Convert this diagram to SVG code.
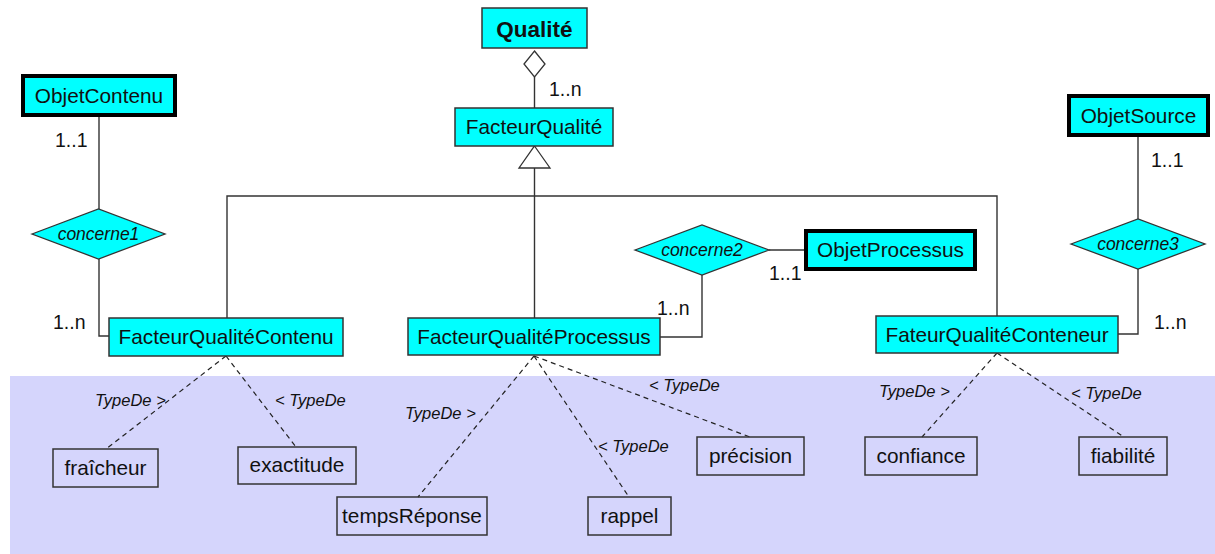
<svg xmlns="http://www.w3.org/2000/svg" width="1215" height="554" viewBox="0 0 1215 554">
<style>
text{font-family:"Liberation Sans",Arial,sans-serif;fill:#111}
.lbl{font-size:20.8px;text-anchor:middle}
.b{font-weight:bold;font-size:22.5px}
.rel{font-size:17.5px;font-style:italic;text-anchor:middle}
.m{font-size:19.5px}
.t{font-size:16.5px;font-style:italic}
.cls{fill:#00ffff;stroke:#333;stroke-width:1.5}
.ent{fill:#00ffff;stroke:#000;stroke-width:4}
.val{fill:none;stroke:#333;stroke-width:1.5}
.dia{fill:#00ffff;stroke:#333;stroke-width:1.3}
.ln{fill:none;stroke:#333;stroke-width:1.4}
.dash{fill:none;stroke:#222;stroke-width:1.2;stroke-dasharray:5,4}
</style>
<rect x="10" y="376" width="1205" height="178" fill="#d5d5fc"/>
<g id="connectors">
<line class="ln" x1="534.5" y1="77" x2="534.5" y2="108"/>
<polygon points="534.5,51 545,64 534.5,77 524,64" fill="#fff" stroke="#333" stroke-width="1.3"/>
<line class="ln" x1="534.5" y1="168" x2="534.5" y2="318"/>
<polyline class="ln" points="227,318 227,196 997,196 997,316"/>
<polygon points="534.5,146 550,168 519,168" fill="#fff" stroke="#333" stroke-width="1.3"/>
<line class="ln" x1="99" y1="117" x2="99" y2="209"/>
<polyline class="ln" points="99,259 99,336 109,336"/>
<line class="ln" x1="1138" y1="137" x2="1138" y2="219"/>
<polyline class="ln" points="1138,269 1138,334 1118,334"/>
<line class="ln" x1="769" y1="250" x2="804" y2="250"/>
<polyline class="ln" points="702,275 702,337 660,337"/>
<line class="dash" x1="226" y1="356" x2="106" y2="449"/>
<line class="dash" x1="226" y1="356" x2="296" y2="447"/>
<line class="dash" x1="534" y1="356" x2="418" y2="497"/>
<line class="dash" x1="534" y1="356" x2="629" y2="497"/>
<line class="dash" x1="534" y1="356" x2="750" y2="437"/>
<line class="dash" x1="997" y1="353" x2="922" y2="437"/>
<line class="dash" x1="997" y1="353" x2="1124" y2="437"/>
<text class="m" x="55" y="147">1..1</text>
<text class="m" x="53" y="329">1..n</text>
<text class="m" x="549" y="96">1..n</text>
<text class="m" x="769" y="280">1..1</text>
<text class="m" x="657" y="315">1..n</text>
<text class="m" x="1151" y="167">1..1</text>
<text class="m" x="1154" y="329">1..n</text>
<text class="t" x="95" y="406">TypeDe &gt;</text>
<text class="t" x="275" y="406">&lt; TypeDe</text>
<text class="t" x="405" y="419">TypeDe &gt;</text>
<text class="t" x="598" y="452">&lt; TypeDe</text>
<text class="t" x="649" y="391">&lt; TypeDe</text>
<text class="t" x="879" y="397">TypeDe &gt;</text>
<text class="t" x="1071" y="399">&lt; TypeDe</text>
</g>
<g id="Qualite"><rect class="cls" x="482" y="8" width="105" height="40"/><text class="lbl b" x="534.5" y="37">Qualité</text></g>
<g id="FacteurQualite"><rect class="cls" x="455" y="108" width="158" height="38"/><text class="lbl" x="534" y="134">FacteurQualité</text></g>
<g id="ObjetContenu"><rect class="ent" x="23" y="76" width="152" height="39"/><text class="lbl" x="99" y="103">ObjetContenu</text></g>
<g id="ObjetSource"><rect class="ent" x="1069" y="96" width="139" height="39"/><text class="lbl" x="1138.5" y="123">ObjetSource</text></g>
<g id="ObjetProcessus"><rect class="ent" x="806" y="231" width="169" height="38"/><text class="lbl" x="890.5" y="257">ObjetProcessus</text></g>
<g id="concerne1"><polygon class="dia" points="32,234 98.5,209 165,234 98.5,259"/><text class="rel" x="98.5" y="240">concerne1</text></g>
<g id="concerne2"><polygon class="dia" points="635,250 702,225 769,250 702,275"/><text class="rel" x="702" y="256">concerne2</text></g>
<g id="concerne3"><polygon class="dia" points="1071,244 1138,219 1205,244 1138,269"/><text class="rel" x="1138" y="250">concerne3</text></g>
<g id="FacteurQualiteContenu"><rect class="cls" x="109" y="318" width="234" height="38"/><text class="lbl" x="226" y="344">FacteurQualitéContenu</text></g>
<g id="FacteurQualiteProcessus"><rect class="cls" x="408" y="318" width="252" height="37"/><text class="lbl" x="534" y="344">FacteurQualitéProcessus</text></g>
<g id="FateurQualiteConteneur"><rect class="cls" x="876" y="316" width="242" height="37"/><text class="lbl" x="997" y="342">FateurQualitéConteneur</text></g>
<g id="fraicheur"><rect class="val" x="53" y="449" width="105" height="38"/><text class="lbl" x="105.5" y="475">fraîcheur</text></g>
<g id="exactitude"><rect class="val" x="238" y="447" width="118" height="37"/><text class="lbl" x="297" y="472">exactitude</text></g>
<g id="tempsReponse"><rect class="val" x="337" y="497" width="150" height="38"/><text class="lbl" x="412" y="523">tempsRéponse</text></g>
<g id="rappel"><rect class="val" x="588" y="497" width="83" height="38"/><text class="lbl" x="629.5" y="523">rappel</text></g>
<g id="precision"><rect class="val" x="697" y="437" width="107" height="38"/><text class="lbl" x="750.5" y="463">précision</text></g>
<g id="confiance"><rect class="val" x="865" y="437" width="112" height="38"/><text class="lbl" x="921" y="463">confiance</text></g>
<g id="fiabilite"><rect class="val" x="1079" y="437" width="88" height="38"/><text class="lbl" x="1123" y="463">fiabilité</text></g>
</svg>
